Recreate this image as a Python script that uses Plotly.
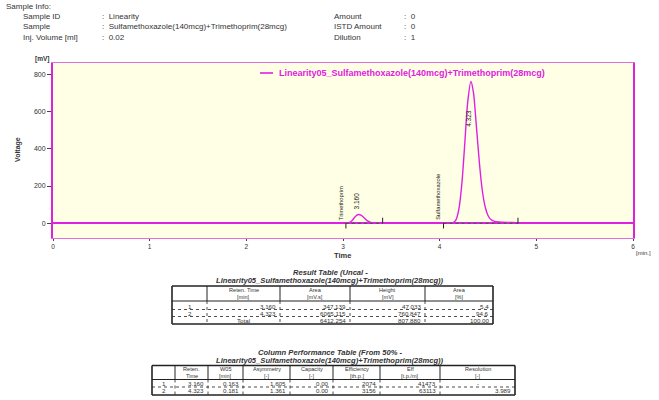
import plotly.graph_objects as go

# ---------------- data ----------------
# chromatogram trace: time [min] / detector signal [mV]
time_min = [0.00, 1.00, 2.00, 2.95, 3.04, 3.07, 3.10, 3.13, 3.160, 3.19, 3.22, 3.25, 3.28, 3.32, 3.38, 3.45,
            3.80, 4.06, 4.10, 4.14, 4.17, 4.20, 4.23, 4.26, 4.29, 4.323, 4.35, 4.38, 4.41, 4.44, 4.47, 4.50,
            4.53, 4.57, 4.65, 4.75, 4.85, 4.95, 5.05, 5.40, 6.00]
signal_mv = [0, 0, 0, 0, 0, 5, 18, 38, 47.033, 42, 28, 14, 6, 2, 0.5, 0,
             0, 0, 1, 4, 20, 80, 215, 430, 650, 760.847, 700, 520, 330, 180, 90, 42,
             20, 10, 6, 4, 2, 1, 0, 0, 0]
trace_name = "Linearity05_Sulfamethoxazole(140mcg)+Trimethoprim(28mcg)"

# identified peaks
peak_names = ["Trimethoprim", "Sulfamethoxazole"]
ret_time = [3.160, 4.323]
area = [347.139, 6065.115]
height = [47.033, 760.847]
area_pct = [5.4, 94.6]
peak_start = [3.03, 4.04]
peak_end = [3.41, 4.81]

# column performance
w05 = [0.163, 0.181]
asymmetry = [1.605, 1.361]
capacity = [0.00, 0.00]
efficiency = [2074, 3156]
eff_per_m = [41473, 63113]
resolution = ["-", "3.989"]

# sample info
info_left_keys = ["Sample ID", "Sample", "Inj. Volume [ml]"]
info_left_vals = ["Linearity", "Sulfamethoxazole(140mcg)+Trimethoprim(28mcg)", "0.02"]
info_right_keys = ["Amount", "ISTD Amount", "Dilution"]
info_right_vals = ["0", "0", "1"]

y_ticks = [0, 200, 400, 600, 800]
x_ticks = [0, 1, 2, 3, 4, 5, 6]

# ---------------- layout helpers ----------------
W, H = 659, 400
ML, MR, MT, MB = 53, 26, 63, 162
PW, PH = W - ML - MR, H - MT - MB

MAG = "#E020E0"
MAG_LIGHT = "#E070E0"
INK = "#333333"
FONT = "Liberation Sans, Arial, sans-serif"


def px(x):
    return (x - ML) / PW


def py(y):
    return (H - MB - y) / PH


shapes = []
annotations = []


def line(x0, y0, x1, y1, width=1.0, dash=None, color="#222222"):
    shapes.append(dict(type="line", xref="paper", yref="paper",
                       x0=px(x0), y0=py(y0), x1=px(x1), y1=py(y1),
                       line=dict(color=color, width=width, dash=dash or "solid")))


def text(x, y, s, size=6, anchor="center", color=INK, angle=0, vanchor="middle"):
    annotations.append(dict(xref="paper", yref="paper", x=px(x), y=py(y), text=s,
                            showarrow=False, xanchor=anchor, yanchor=vanchor,
                            textangle=angle, borderpad=0,
                            font=dict(size=size, color=color, family=FONT)))


fig = go.Figure()

# baseline and signal
fig.add_trace(go.Scatter(x=time_min, y=signal_mv, mode="lines", name=trace_name,
                         line=dict(color=MAG, width=1.4, shape="spline", smoothing=0.7),
                         hoverinfo="x+y"))

# integration baselines under the peaks
for s, e in zip(peak_start, peak_end):
    fig.add_trace(go.Scatter(x=[s, e], y=[0, 0], mode="lines",
                             line=dict(color="#555555", width=1.3, dash="dot"),
                             hoverinfo="skip"))

# peak start / end event marks
for s in peak_start:
    shapes.append(dict(type="line", xref="x", yref="y", x0=s, x1=s, y0=0, y1=-28,
                       line=dict(color="#222222", width=1)))
for e in peak_end:
    shapes.append(dict(type="line", xref="x", yref="y", x0=e, x1=e, y0=0, y1=30,
                       line=dict(color="#222222", width=1)))

# component names, rotated
for name, s in zip(peak_names, peak_start):
    annotations.append(dict(xref="x", yref="y", x=s, y=0, text=name, showarrow=False,
                            textangle=-90, xanchor="center", yanchor="bottom",
                            xshift=-5, yshift=2, borderpad=0,
                            font=dict(size=5.8, color="#222222", family=FONT)))

# retention-time labels
rt_label_shift = [4, -27]
rt_label_anchor = ["bottom", "top"]
for t, h, sh, an in zip(ret_time, height, rt_label_shift, rt_label_anchor):
    annotations.append(dict(xref="x", yref="y", x=t, y=h, text=f"{t:.3f}", showarrow=False,
                            textangle=-90, xanchor="center", yanchor=an,
                            xshift=-2, yshift=sh, borderpad=0,
                            font=dict(size=6.5, color="#222222", family=FONT)))

# legend entry drawn in the upper part of the plot
line(260, 73, 273, 73, width=1.6, color=MAG)
text(278, 73, f"<b>{trace_name}</b>", size=9, anchor="left", color=MAG)

# axis captions
text(18, 150, "<b>Voltage</b>", size=7, angle=-90)
text(42, 59, "<b>[mV]</b>", size=6.5)
text(342, 255, "<b>Time</b>", size=7.5)
text(643, 253, "[min.]", size=6)

# ---------------- sample info header ----------------
HDR = 8
text(5, 6, "Sample Info:", size=HDR, anchor="left")
for i, (k, v) in enumerate(zip(info_left_keys, info_left_vals)):
    y = 17 + 10 * i
    text(22, y, k, size=HDR, anchor="left")
    text(101, y, ":  " + v, size=HDR, anchor="left")
for i, (k, v) in enumerate(zip(info_right_keys, info_right_vals)):
    y = 17 + 10 * i
    text(333, y, k, size=HDR, anchor="left")
    text(403, y, ":  " + v, size=HDR, anchor="left")

# ---------------- result table ----------------
TITLE_SZ = 7.6
HEAD_SZ = 5.6
CELL_SZ = 6.2
text(330, 272, "<b><i>Result Table (Uncal -</i></b>", size=TITLE_SZ)
text(330, 280, f"<b><i>{trace_name})</i></b>", size=TITLE_SZ)

rx = [172, 207, 280, 350, 425, 493]
r_top, r_head, r_bot = 286, 301, 324
r_rows = [306, 313, 320]
r_heads = [("", ""), ("Reten. Time", "[min]"), ("Area", "[mV.s]"), ("Height", "[mV]"), ("Area", "[%]")]

line(rx[0], r_top, rx[-1], r_top, 1.6)
line(rx[0], r_bot, rx[-1], r_bot, 1.6)
line(rx[0], r_top, rx[0], r_bot, 1.6)
line(rx[-1], r_top, rx[-1], r_bot, 1.6)
line(rx[0], r_head, rx[-1], r_head, 1.0)
for xv in rx[1:-1]:
    line(xv, r_top, xv, r_head, 1.0)
    line(xv, r_head, xv, r_bot, 0.8, dash="dot")
for yv in [(r_rows[0] + r_rows[1]) / 2, (r_rows[1] + r_rows[2]) / 2]:
    line(rx[0], yv, rx[-1], yv, 0.8, dash="dot")
for j, (a, b) in enumerate(r_heads):
    cx = (rx[j] + rx[j + 1]) / 2
    text(cx, 290, a, size=HEAD_SZ)
    text(cx, 296.8, b, size=HEAD_SZ)

result_rows = []
for i in range(len(ret_time)):
    result_rows.append([str(i + 1), f"{ret_time[i]:.3f}", f"{area[i]:.3f}",
                        f"{height[i]:.3f}", f"{area_pct[i]:.1f}"])
result_rows.append(["", "Total", f"{sum(area):.3f}", f"{sum(height):.3f}", f"{sum(area_pct):.2f}"])
for r, row in enumerate(result_rows):
    yv = r_rows[r]
    for j, cell in enumerate(row):
        if j == 0 or (r == len(result_rows) - 1 and j == 1):
            text((rx[j] + rx[j + 1]) / 2, yv, cell, size=CELL_SZ)
        else:
            text(rx[j + 1] - 3, yv, cell, size=CELL_SZ, anchor="right")

# ---------------- column performance table ----------------
text(330, 352, "<b><i>Column Performance Table (From 50% -</i></b>", size=TITLE_SZ)
text(330, 360.5, f"<b><i>{trace_name})</i></b>", size=TITLE_SZ)

cx_ = [152, 175, 208, 243, 290, 333, 380, 440, 515]
c_top, c_head, c_bot = 365.5, 379.5, 395
c_rows = [383.5, 390.5]
c_heads = [("", ""), ("Reten.", "Time"), ("W05", "[min]"), ("Asymmetry", "[-]"), ("Capacity", "[-]"),
           ("Efficiency", "[th.p.]"), ("Eff", "[t.p./m]"), ("Resolution", "[-]")]

line(cx_[0], c_top, cx_[-1], c_top, 1.6)
line(cx_[0], c_bot, cx_[-1], c_bot, 1.6)
line(cx_[0], c_top, cx_[0], c_bot, 1.6)
line(cx_[-1], c_top, cx_[-1], c_bot, 1.6)
line(cx_[0], c_head, cx_[-1], c_head, 1.0)
for xv in cx_[1:-1]:
    line(xv, c_top, xv, c_head, 1.0)
    line(xv, c_head, xv, c_bot, 0.8, dash="dot")
line(cx_[0], (c_rows[0] + c_rows[1]) / 2, cx_[-1], (c_rows[0] + c_rows[1]) / 2, 0.8, dash="dot")
for j, (a, b) in enumerate(c_heads):
    cxx = (cx_[j] + cx_[j + 1]) / 2
    text(cxx, 369, a, size=HEAD_SZ)
    text(cxx, 375.7, b, size=HEAD_SZ)

for i in range(len(ret_time)):
    row = [str(i + 1), f"{ret_time[i]:.3f}", f"{w05[i]:.3f}", f"{asymmetry[i]:.3f}",
           f"{capacity[i]:.2f}", f"{efficiency[i]}", f"{eff_per_m[i]}", resolution[i]]
    for j, cell in enumerate(row):
        if j == 0 or cell == "-":
            text((cx_[j] + cx_[j + 1]) / 2, c_rows[i], cell, size=CELL_SZ)
        else:
            text(cx_[j + 1] - 3, c_rows[i], cell, size=CELL_SZ, anchor="right")

# ---------------- axes ----------------
fig.update_xaxes(range=[0, 6], tickvals=x_ticks, ticktext=[str(v) for v in x_ticks],
                 showgrid=False, zeroline=False, showline=True, linecolor=MAG_LIGHT,
                 linewidth=1, mirror=True, ticks="outside", ticklen=2, tickcolor="#444444",
                 tickfont=dict(size=6.5, color=INK, family=FONT))
fig.update_yaxes(range=[-79, 860], tickvals=y_ticks, showgrid=False,
                 zeroline=True, zerolinecolor=MAG, zerolinewidth=1.5,
                 showline=True, linecolor=MAG, linewidth=2, mirror=True,
                 ticks="outside", ticklen=4, tickcolor="#444444",
                 tickfont=dict(size=7, color=INK, family=FONT))

fig.update_layout(width=W, height=H, margin=dict(l=ML, r=MR, t=MT, b=MB),
                  paper_bgcolor="white", plot_bgcolor="#FFFFE6",
                  showlegend=False, shapes=shapes, annotations=annotations,
                  font=dict(family=FONT, color=INK))

fig.write_html("out.html")
